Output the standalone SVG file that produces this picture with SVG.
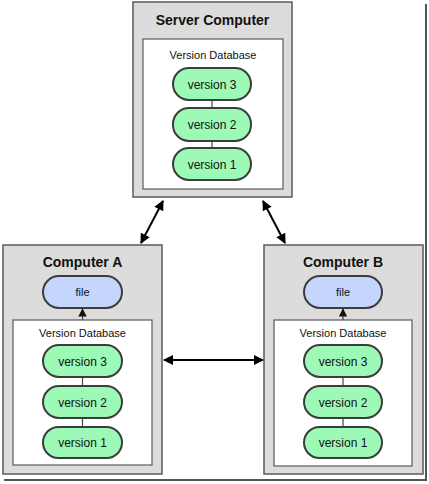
<svg xmlns="http://www.w3.org/2000/svg" width="429" height="484" viewBox="0 0 429 484">
<defs>
<style>
.outer{fill:#dcdcdc;stroke:#5a5a5a;stroke-width:1.5}
.inner{fill:#ffffff;stroke:#5a5a5a;stroke-width:1.2}
.ver{fill:#9cf9b6;stroke:#3c3c3c;stroke-width:2}
.file{fill:#c4d6fb;stroke:#3c3c3c;stroke-width:2}
.title{font-family:"Liberation Sans",Arial,sans-serif;font-weight:bold;font-size:14px;fill:#111;text-anchor:middle}
.db{font-family:"Liberation Sans",Arial,sans-serif;font-size:11px;fill:#111;text-anchor:middle}
.lbl{font-family:"Liberation Sans",Arial,sans-serif;font-size:12px;fill:#111;text-anchor:middle}
.link{stroke:#444;stroke-width:1.2;fill:none}
.big{stroke:#000;stroke-width:2;fill:none}
</style>
<marker id="ah" viewBox="0 0 10 10" refX="9" refY="5" markerWidth="5.5" markerHeight="5" orient="auto-start-reverse" markerUnits="strokeWidth">
<path d="M0,0 L10,5 L0,10 z" fill="#000"/>
</marker>
<marker id="sm" viewBox="0 0 10 10" refX="9" refY="5" markerWidth="7" markerHeight="7" orient="auto" markerUnits="strokeWidth">
<path d="M0,0 L10,5 L0,10 z" fill="#111"/>
</marker>
</defs>
<rect width="429" height="484" fill="#fff"/>
<g id="frame">
<line x1="426" y1="4" x2="426" y2="481" stroke="#555" stroke-width="2"/>
<line x1="4" y1="480" x2="427" y2="480" stroke="#555" stroke-width="2"/>
</g>
<g id="server">
<rect class="outer" x="133" y="2" width="159" height="195"/>
<text class="title" x="212.5" y="25">Server Computer</text>
<rect class="inner" x="143" y="39" width="140" height="150"/>
<text class="db" x="213" y="59">Version Database</text>
<line class="link" x1="212" y1="100" x2="212" y2="108"/>
<line class="link" x1="212" y1="141" x2="212" y2="148"/>
<rect class="ver" x="173" y="68" width="78" height="32" rx="16"/>
<text class="lbl" x="212" y="88.5">version 3</text>
<rect class="ver" x="173" y="108" width="78" height="33" rx="16"/>
<text class="lbl" x="212" y="129">version 2</text>
<rect class="ver" x="173" y="148" width="78" height="32" rx="16"/>
<text class="lbl" x="212" y="168.5">version 1</text>
</g>
<g id="computerA">
<rect class="outer" x="3" y="245" width="159" height="229"/>
<text class="title" x="82.5" y="267">Computer A</text>
<rect class="file" x="43" y="276" width="79" height="32" rx="16"/>
<text class="db" x="82.5" y="296">file</text>
<rect class="inner" x="13" y="320" width="139" height="145"/>
<text class="db" x="82.5" y="337">Version Database</text>
<line class="link" x1="82.5" y1="377" x2="82.5" y2="386"/>
<line class="link" x1="82.5" y1="418" x2="82.5" y2="427"/>
<rect class="ver" x="43" y="345" width="79" height="32" rx="16"/>
<text class="lbl" x="82.5" y="365.5">version 3</text>
<rect class="ver" x="43" y="386" width="79" height="32" rx="16"/>
<text class="lbl" x="82.5" y="406.5">version 2</text>
<rect class="ver" x="43" y="427" width="79" height="31" rx="15.5"/>
<text class="lbl" x="82.5" y="447">version 1</text>
</g>
<g id="computerB">
<rect class="outer" x="264" y="245" width="159" height="229"/>
<text class="title" x="343" y="267">Computer B</text>
<rect class="file" x="304" y="276" width="78" height="32" rx="16"/>
<text class="db" x="343" y="296">file</text>
<rect class="inner" x="274" y="320" width="138" height="146"/>
<text class="db" x="343" y="337">Version Database</text>
<line class="link" x1="343" y1="377" x2="343" y2="386"/>
<line class="link" x1="343" y1="418" x2="343" y2="427"/>
<rect class="ver" x="304" y="345" width="78" height="32" rx="16"/>
<text class="lbl" x="343" y="365.5">version 3</text>
<rect class="ver" x="304" y="386" width="78" height="32" rx="16"/>
<text class="lbl" x="343" y="406.5">version 2</text>
<rect class="ver" x="304" y="427" width="78" height="31" rx="15.5"/>
<text class="lbl" x="343" y="447">version 1</text>
</g>
<g id="connectors">
<line class="link" x1="82.5" y1="320" x2="82.5" y2="309" marker-end="url(#sm)"/>
<line class="link" x1="343" y1="320" x2="343" y2="309" marker-end="url(#sm)"/>
<line class="big" x1="163" y1="201" x2="141" y2="243" marker-start="url(#ah)" marker-end="url(#ah)"/>
<line class="big" x1="263" y1="201" x2="285" y2="243" marker-start="url(#ah)" marker-end="url(#ah)"/>
<line class="big" x1="164" y1="360" x2="263" y2="360" marker-start="url(#ah)" marker-end="url(#ah)"/>
</g>
</svg>
